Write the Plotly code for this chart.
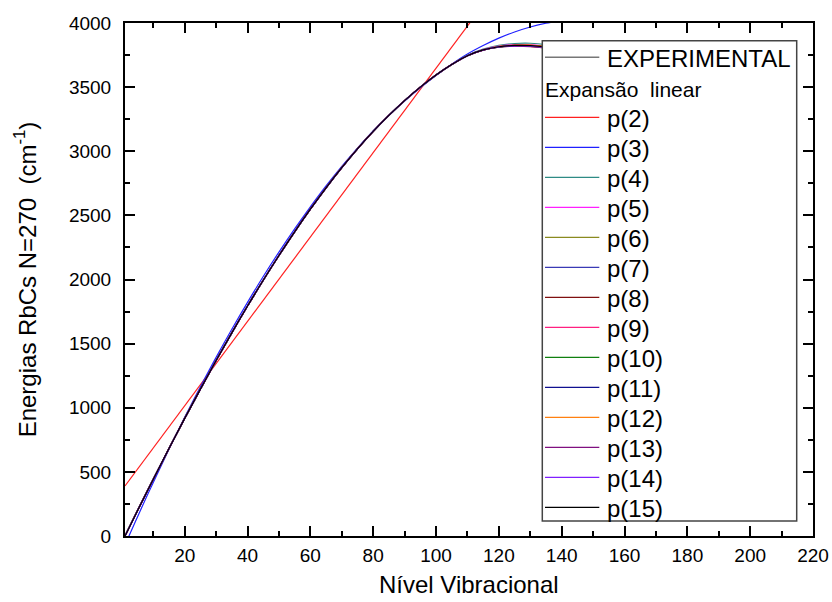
import plotly.graph_objects as go

# ---------------- data ----------------
levels = [1, 5, 10, 15, 20, 25, 30, 35, 40, 45, 50, 55, 60, 65, 70, 75, 80,
          85, 90, 95, 100, 105, 110, 115, 120, 125, 130, 135, 140]

experimental = [0, 199, 443, 682, 917, 1145, 1368, 1584, 1793, 1994, 2187, 2372,
                2548, 2715, 2872, 3019, 3155, 3280, 3395, 3500, 3594, 3676, 3745,
                3790, 3815, 3825, 3825, 3815, 3798]

p2_levels = [1, 112]
p2 = [390, 4042]

p3 = [-70, 151, 418, 676, 925, 1163, 1393, 1612, 1822, 2023, 2214, 2395, 2567,
      2730, 2882, 3025, 3159, 3281, 3392, 3495, 3591, 3679, 3758, 3824, 3882,
      3930, 3969, 3998, 4017]

p4 = [5, 201, 444, 682, 917, 1145, 1368, 1584, 1793, 1994, 2187, 2372, 2548, 2715,
      2872, 3019, 3155, 3280, 3395, 3500, 3594, 3676, 3748, 3796, 3826, 3840,
      3842, 3832, 3810]
p5 = [-3, 198, 443, 682, 917, 1145, 1368, 1584, 1793, 1994, 2187, 2372, 2548, 2715,
      2872, 3019, 3155, 3280, 3395, 3500, 3594, 3676, 3745, 3793, 3820, 3831,
      3830, 3818, 3795]
p6 = [2, 200, 443, 682, 917, 1145, 1368, 1584, 1793, 1994, 2187, 2372, 2548, 2715,
      2872, 3019, 3155, 3280, 3395, 3500, 3594, 3676, 3745, 3790, 3818, 3828,
      3826, 3812, 3790]
p7 = [-2, 199, 443, 682, 917, 1145, 1368, 1584, 1793, 1994, 2187, 2372, 2548, 2715,
      2872, 3019, 3155, 3280, 3395, 3500, 3594, 3676, 3744, 3788, 3812, 3821,
      3820, 3808, 3788]
p8 = [1, 199, 443, 682, 917, 1145, 1368, 1584, 1793, 1994, 2187, 2372, 2548, 2715,
      2872, 3019, 3155, 3280, 3395, 3500, 3594, 3676, 3745, 3789, 3812, 3819,
      3816, 3804, 3785]
p9 = [0, 199, 443, 682, 917, 1145, 1368, 1584, 1793, 1994, 2187, 2372, 2548, 2715,
      2872, 3019, 3155, 3280, 3395, 3500, 3594, 3676, 3745, 3791, 3817, 3827,
      3828, 3818, 3800]
p10 = [0, 199, 443, 682, 917, 1145, 1368, 1584, 1793, 1994, 2187, 2372, 2548, 2715,
       2872, 3019, 3155, 3280, 3395, 3500, 3594, 3676, 3745, 3790, 3814, 3823,
       3822, 3810, 3793]
p11 = [0, 199, 443, 682, 917, 1145, 1368, 1584, 1793, 1994, 2187, 2372, 2548, 2715,
       2872, 3019, 3155, 3280, 3395, 3500, 3594, 3676, 3745, 3790, 3815, 3824,
       3823, 3813, 3796]
p12 = [0, 199, 443, 682, 917, 1145, 1368, 1584, 1793, 1994, 2187, 2372, 2548, 2715,
       2872, 3019, 3155, 3280, 3395, 3500, 3594, 3676, 3745, 3790, 3816, 3826,
       3827, 3816, 3799]
p13 = [0, 199, 443, 682, 917, 1145, 1368, 1584, 1793, 1994, 2187, 2372, 2548, 2715,
       2872, 3019, 3155, 3280, 3395, 3500, 3594, 3676, 3745, 3789, 3813, 3820,
       3818, 3805, 3786]
p14 = [0, 199, 443, 682, 917, 1145, 1368, 1584, 1793, 1994, 2187, 2372, 2548, 2715,
       2872, 3019, 3155, 3280, 3395, 3500, 3594, 3676, 3745, 3790, 3814, 3822,
       3820, 3809, 3790]
p15 = [0, 199, 443, 682, 917, 1145, 1368, 1584, 1793, 1994, 2187, 2372, 2548, 2715,
       2872, 3019, 3155, 3280, 3395, 3500, 3594, 3676, 3745, 3790, 3815, 3825,
       3824, 3814, 3797]

series_names = ["p(2)", "p(3)", "p(4)", "p(5)", "p(6)", "p(7)", "p(8)", "p(9)",
                "p(10)", "p(11)", "p(12)", "p(13)", "p(14)", "p(15)"]
series_values = [p2, p3, p4, p5, p6, p7, p8, p9, p10, p11, p12, p13, p14, p15]
series_colors = ["#FF2020", "#2020FF", "#2E8B85", "#FF20FF", "#8A8A20", "#3A3AB5",
                 "#801010", "#FF2080", "#108010", "#101090", "#FF8010", "#801080",
                 "#8020FF", "#000000"]
exp_name = "EXPERIMENTAL"
exp_color = "#777777"
legend_subtitle = "Expansão  linear"

x_tickvals = [20, 40, 60, 80, 100, 120, 140, 160, 180, 200, 220]
y_tickvals = [0, 500, 1000, 1500, 2000, 2500, 3000, 3500, 4000]

FONT = "Liberation Sans, Arial, sans-serif"

# ---------------- figure ----------------
fig = go.Figure()
fig.add_trace(go.Scatter(x=levels, y=experimental, mode="lines", name=exp_name,
                         line=dict(color=exp_color, width=1.5, shape="spline")))
for name, vals, col in zip(series_names, series_values, series_colors):
    xs = p2_levels if name == "p(2)" else levels
    fig.add_trace(go.Scatter(x=xs, y=vals, mode="lines", name=name,
                             line=dict(color=col, width=1.2, shape="spline")))

# plot-area geometry in pixels (for the hand-drawn legend box)
L, R, T, B = 125, 813, 23, 536
W, H = R - L, B - T
def px2x(px):
    return (px - L) / W
def py2y(py):
    return (B - py) / H

shapes = [dict(type="rect", xref="paper", yref="paper", layer="above",
               x0=px2x(542.3), x1=px2x(796.7), y0=py2y(521), y1=py2y(40.7),
               fillcolor="white", line=dict(color="#444444", width=1.5))]
annotations = []
line_x0, line_x1, text_x = 545, 599.3, 604.5

shapes.append(dict(type="line", xref="paper", yref="paper", layer="above",
                   x0=px2x(line_x0), x1=px2x(line_x1), y0=py2y(57.3), y1=py2y(57.3),
                   line=dict(color=exp_color, width=1.5)))
annotations.append(dict(xref="paper", yref="paper", x=px2x(text_x), y=py2y(58),
                        xanchor="left", yanchor="middle", showarrow=False,
                        text=exp_name, font=dict(family=FONT, size=24, color="black")))
annotations.append(dict(xref="paper", yref="paper", x=px2x(543), y=py2y(89.5),
                        xanchor="left", yanchor="middle", showarrow=False,
                        text=legend_subtitle.replace("  ", "\u00a0 "),
                        font=dict(family=FONT, size=21, color="black")))
for i, (name, col) in enumerate(zip(series_names, series_colors)):
    yy = 117.3 + 30 * i
    shapes.append(dict(type="line", xref="paper", yref="paper", layer="above",
                       x0=px2x(line_x0), x1=px2x(line_x1), y0=py2y(yy), y1=py2y(yy),
                       line=dict(color=col, width=1.2)))
    annotations.append(dict(xref="paper", yref="paper", x=px2x(text_x), y=py2y(yy + 1),
                            xanchor="left", yanchor="middle", showarrow=False,
                            text=name, font=dict(family=FONT, size=24, color="black")))

# x-axis title, placed like the reference (centred under the plot)
annotations.append(dict(xref="paper", yref="paper", x=0.5, y=py2y(584),
                        xanchor="center", yanchor="middle", showarrow=False,
                        text="Nível Vibracional",
                        font=dict(family=FONT, size=24, color="black")))

axis_common = dict(showline=True, linecolor="black", linewidth=2, mirror="allticks",
                   ticks="inside", ticklen=10, tickwidth=1.5, tickcolor="black",
                   showgrid=False, zeroline=False, automargin=False,
                   tickfont=dict(family=FONT, size=19, color="black"))

fig.update_layout(
    width=832, height=602,
    margin=dict(l=L, r=832 - R, t=T, b=602 - B, pad=0, autoexpand=False),
    paper_bgcolor="white", plot_bgcolor="white",
    showlegend=False,
    shapes=shapes, annotations=annotations,
    xaxis=dict(range=[1, 220], tickvals=x_tickvals,
               minor=dict(dtick=10, tick0=0, ticks="inside", ticklen=5, tickwidth=1.5,
                          tickcolor="black"),
               ticklabelstandoff=1,
               **axis_common),
    yaxis=dict(range=[0, 4000], tickvals=y_tickvals,
               minor=dict(dtick=250, tick0=0, ticks="inside", ticklen=5, tickwidth=1.5,
                          tickcolor="black"),
               ticklabelstandoff=8,
               title=dict(text="Energias RbCs N=270\u00a0 (cm<sup>-1</sup>)", standoff=26,
                          font=dict(family=FONT, size=24, color="black")),
               **axis_common),
)

fig.write_html("out.html")
